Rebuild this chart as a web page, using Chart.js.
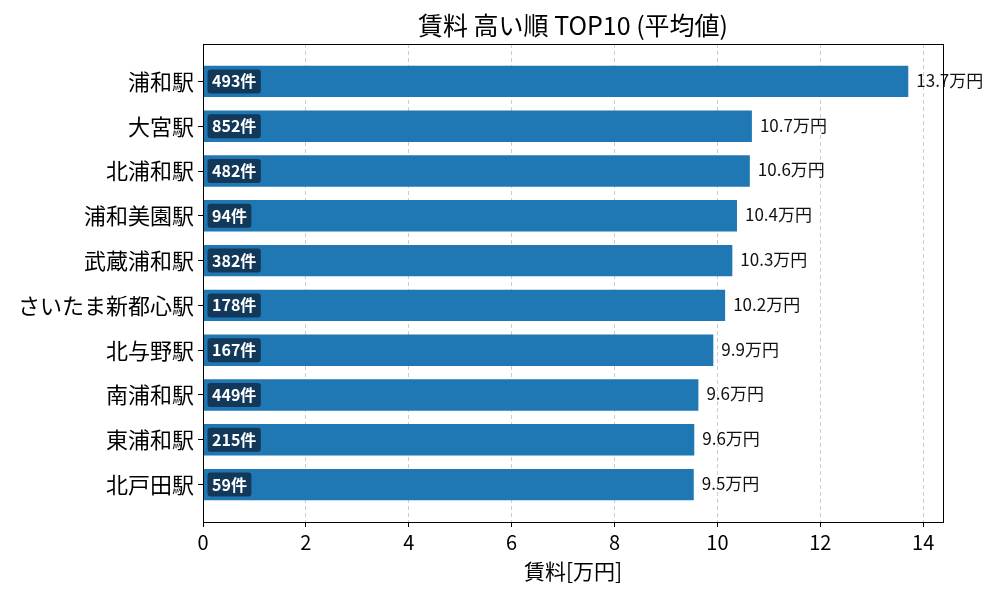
<!DOCTYPE html>
<html>
<head>
<meta charset="utf-8">
<script src="https://cdn.jsdelivr.net/npm/chart.js@4.4.1/dist/chart.umd.min.js"></script>
<style>
html,body{margin:0;padding:0;background:#fff;}
#wrap{width:1000px;height:600px;position:relative;}
</style>
</head>
<body>
<div id="wrap"><canvas id="c" width="1000" height="600"></canvas></div>
<script>
const stations = ['浦和駅','大宮駅','北浦和駅','浦和美園駅','武蔵浦和駅','さいたま新都心駅','北与野駅','南浦和駅','東浦和駅','北戸田駅'];
const rents = [13.71, 10.67, 10.63, 10.38, 10.29, 10.15, 9.92, 9.63, 9.55, 9.54];
const rentLabels = ['13.7','10.7','10.6','10.4','10.3','10.2','9.9','9.6','9.6','9.5'];
const counts = [493, 852, 482, 94, 382, 178, 167, 449, 215, 59];
const xTicks = [0, 2, 4, 6, 8, 10, 12, 14];

const FONT = "'Noto Sans CJK JP', 'Noto Sans', sans-serif";

const labelPlugin = {
  id: 'labels',
  afterDatasetsDraw(chart) {
    const ctx = chart.ctx;
    const meta = chart.getDatasetMeta(0);
    ctx.save();
    meta.data.forEach((bar, i) => {
      const base = bar.base;
      const yc = bar.y;
      ctx.font = "bold 16px " + FONT;
      const txt = counts[i] + '件';
      const tw = ctx.measureText(txt).width;
      const bx = base + 4, bh = 24, bw = tw + 9;
      ctx.fillStyle = '#12395a';
      ctx.beginPath();
      ctx.roundRect(bx, yc - bh / 2, bw, bh, 3);
      ctx.fill();
      ctx.fillStyle = '#ffffff';
      ctx.textAlign = 'left';
      ctx.textBaseline = 'middle';
      ctx.fillText(txt, bx + 4.5, yc);
      ctx.font = "17px " + FONT;
      ctx.fillStyle = '#111111';
      ctx.fillText(rentLabels[i] + '万円', bar.x + 8, yc - 1);
    });
    ctx.restore();
  },
  afterDraw(chart) {
    const ctx = chart.ctx;
    const a = chart.chartArea;
    ctx.save();
    ctx.strokeStyle = '#000';
    ctx.lineWidth = 1;
    ctx.strokeRect(Math.round(a.left) + 0.5, Math.round(a.top) + 0.5, Math.round(a.right - a.left), Math.round(a.bottom - a.top));
    ctx.font = "25px " + FONT;
    ctx.fillStyle = '#000';
    ctx.textAlign = 'center';
    ctx.textBaseline = 'middle';
    ctx.fillText('賃料 高い順 TOP10 (平均値)', (a.left + a.right) / 2, 25);
    ctx.restore();
  }
};

new Chart(document.getElementById('c'), {
  type: 'bar',
  data: {
    datasets: [{
      data: rents.map((v, i) => ({ x: v, y: i })),
      backgroundColor: '#1f77b4',
      borderWidth: 0,
      barPercentage: 0.7,
      categoryPercentage: 1.0
    }]
  },
  options: {
    indexAxis: 'y',
    responsive: false,
    animation: false,
    devicePixelRatio: 1,
    layout: { padding: { left: 0, right: 57, top: 44, bottom: 0 } },
    plugins: { legend: { display: false }, tooltip: { enabled: false }, title: { display: false } },
    scales: {
      x: {
        type: 'linear',
        min: 0,
        max: 14.385,
        offset: false,
        afterBuildTicks: (s) => { s.ticks = xTicks.map(v => ({ value: v })); },
        afterFit: (s) => { s.height = 78; },
        ticks: { font: { family: FONT, size: 20 }, color: '#000', padding: 3, maxRotation: 0, autoSkip: false },
        grid: { offset: false, color: '#cccccc', lineWidth: 1, tickColor: '#000', tickLength: 5, tickWidth: 1, tickBorderDash: [] },
        border: { display: false, dash: [4, 3] },
        title: { display: true, text: '賃料[万円]', font: { family: FONT, size: 21 }, color: '#000', padding: { top: 0, bottom: 16 } }
      },
      y: {
        type: 'linear',
        min: -0.835,
        max: 9.835,
        reverse: true,
        offset: false,
        afterBuildTicks: (s) => { s.ticks = stations.map((_, i) => ({ value: i })); },
        afterFit: (s) => { s.width = 203; },
        ticks: { font: { family: FONT, size: 22 }, color: '#000', padding: 4, autoSkip: false, callback: (v) => stations[v] },
        grid: { offset: false, drawOnChartArea: false, tickColor: '#000', tickLength: 5, tickWidth: 1 },
        border: { display: false }
      }
    }
  },
  plugins: [labelPlugin]
});
</script>
</body>
</html>
